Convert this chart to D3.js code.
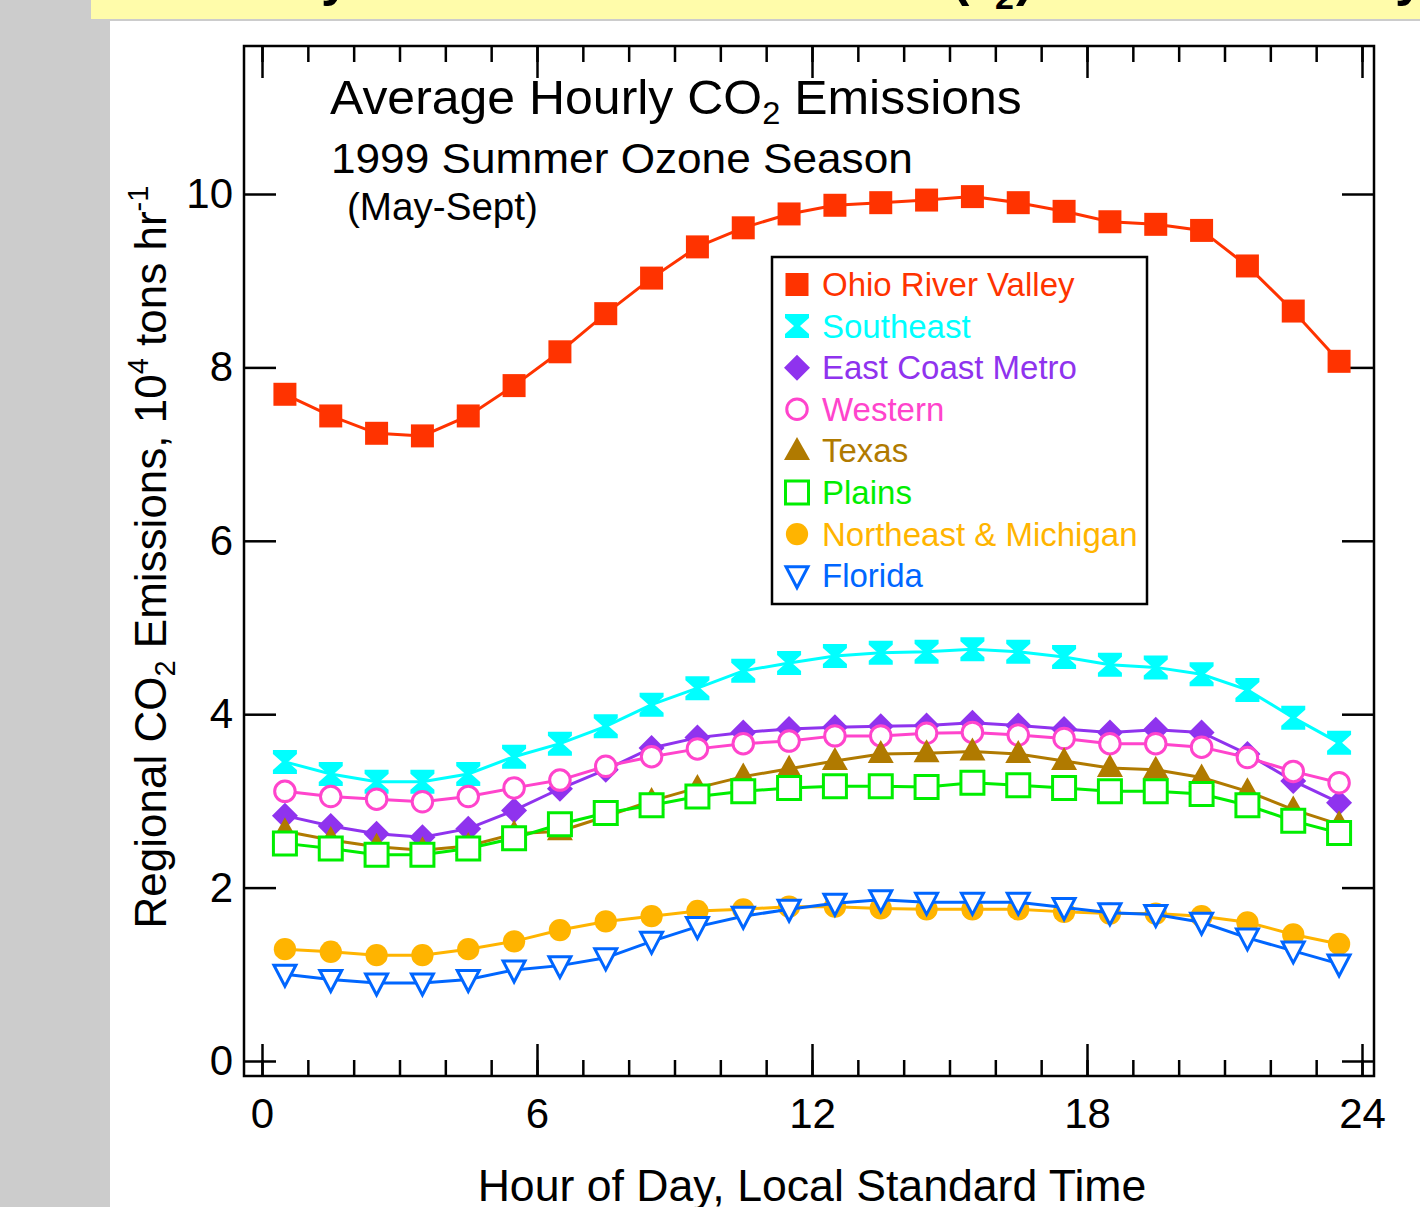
<!DOCTYPE html>
<html>
<head>
<meta charset="utf-8">
<script src="https://d3js.org/d3.v7.min.js"></script>
<style>
  body, html { margin: 0; padding: 0; background: #cccccc; }
  svg text { font-family: "Liberation Sans", Arial, Helvetica, sans-serif; }
</style>
</head>
<body>
<script>
// hour of day (mid-hour points)
const hours = [0.5, 1.5, 2.5, 3.5, 4.5, 5.5, 6.5, 7.5, 8.5, 9.5, 10.5, 11.5,
               12.5, 13.5, 14.5, 15.5, 16.5, 17.5, 18.5, 19.5, 20.5, 21.5, 22.5, 23.5];

// regional CO2 emissions, 10^4 tons/hr
const ohioRiverValley = [7.69, 7.44, 7.24, 7.21, 7.44, 7.79, 8.18, 8.62, 9.03, 9.39, 9.61, 9.77,
                         9.87, 9.90, 9.93, 9.97, 9.90, 9.80, 9.68, 9.65, 9.58, 9.17, 8.65, 8.07];
const southeast = [3.45, 3.31, 3.22, 3.22, 3.31, 3.51, 3.66, 3.86, 4.11, 4.30, 4.50, 4.59,
                   4.67, 4.71, 4.72, 4.75, 4.72, 4.66, 4.57, 4.54, 4.46, 4.28, 3.96, 3.67];
const eastCoastMetro = [2.83, 2.71, 2.62, 2.58, 2.68, 2.89, 3.14, 3.36, 3.61, 3.73, 3.79, 3.83,
                        3.85, 3.86, 3.87, 3.90, 3.87, 3.83, 3.79, 3.82, 3.79, 3.54, 3.23, 2.98];
const western = [3.11, 3.05, 3.02, 2.99, 3.05, 3.15, 3.24, 3.40, 3.51, 3.60, 3.66, 3.69,
                 3.75, 3.75, 3.78, 3.79, 3.76, 3.72, 3.66, 3.66, 3.62, 3.50, 3.34, 3.21];
const texas = [2.65, 2.55, 2.47, 2.43, 2.48, 2.62, 2.65, 2.82, 3.00, 3.15, 3.28, 3.37,
               3.46, 3.54, 3.55, 3.57, 3.54, 3.46, 3.38, 3.36, 3.27, 3.11, 2.90, 2.73];
const plains = [2.51, 2.45, 2.38, 2.38, 2.45, 2.57, 2.73, 2.86, 2.95, 3.05, 3.11, 3.15,
                3.17, 3.17, 3.16, 3.21, 3.18, 3.15, 3.11, 3.11, 3.08, 2.95, 2.77, 2.63];
const northeastMichigan = [1.29, 1.26, 1.22, 1.22, 1.29, 1.38, 1.51, 1.61, 1.67, 1.73, 1.75, 1.78,
                           1.78, 1.76, 1.75, 1.75, 1.75, 1.72, 1.70, 1.70, 1.67, 1.60, 1.46, 1.35];
const florida = [1.00, 0.94, 0.90, 0.90, 0.94, 1.05, 1.10, 1.19, 1.38, 1.55, 1.67, 1.75,
                 1.82, 1.86, 1.83, 1.83, 1.83, 1.77, 1.71, 1.69, 1.60, 1.42, 1.27, 1.12];

const seriesNames = ["Ohio River Valley", "Southeast", "East Coast Metro", "Western",
                     "Texas", "Plains", "Northeast & Michigan", "Florida"];
const seriesValues = [ohioRiverValley, southeast, eastCoastMetro, western,
                      texas, plains, northeastMichigan, florida];
const seriesColors = ["#ff3300", "#00ffff", "#8f33ee", "#ff44cc",
                      "#b07a00", "#00ee00", "#ffb400", "#0066ff"];
const seriesMarkers = ["squareFill", "hourglass", "diamond", "circleOpen",
                       "triangleUp", "squareOpen", "circleFill", "triangleDownOpen"];

const xMajorTicks = [0, 6, 12, 18, 24];
const yMajorTicks = [0, 2, 4, 6, 8, 10];

const W = 1420, H = 1207;

const svg = d3.select("body").append("svg")
    .attr("width", W)
    .attr("height", H)
    .attr("viewBox", [0, 0, W, H]);

// page background: grey strip, yellow banner, white panel
svg.append("rect").attr("width", W).attr("height", H).attr("fill", "#cccccc");
svg.append("rect").attr("x", 91).attr("y", 0).attr("width", W - 91).attr("height", 19).attr("fill", "#fffcaa");
svg.append("rect").attr("x", 110).attr("y", 21).attr("width", W - 110).attr("height", H - 21).attr("fill", "#ffffff");

// slide title above the crop: only its descenders reach into the banner
const banner = svg.append("g").attr("font-size", 52).attr("font-weight", "bold").attr("fill", "#000");
banner.append("text").attr("x", 350).attr("y", -5).attr("text-anchor", "end").text("Hourly");
banner.append("text").attr("x", 952).attr("y", -5).text("(");
banner.append("text").attr("x", 995).attr("y", 9).attr("font-size", 34).text("2");
banner.append("text").attr("x", 1016).attr("y", -5).text(")");
banner.append("text").attr("x", 1424).attr("y", -5).attr("text-anchor", "end").text("Day");

// plot frame
const frame = {left: 244, right: 1374, top: 46, bottom: 1076};

const x = d3.scaleLinear().domain([0, 24]).range([262, 1362]);
const y = d3.scaleLinear().domain([0, 10]).range([1061, 194]);

const tickStroke = 2.5;

function styleAxis(g) {
    g.select(".domain").remove();
    g.selectAll(".tick line").attr("stroke", "#000").attr("stroke-width", tickStroke);
    g.selectAll(".tick text").attr("fill", "#000");
}

// minor hourly ticks, bottom and top
svg.append("g").attr("transform", `translate(0,${frame.bottom})`)
    .call(d3.axisBottom(x).tickValues(d3.range(0, 25)).tickSize(-16).tickFormat(""))
    .call(styleAxis);
svg.append("g").attr("transform", `translate(0,${frame.top})`)
    .call(d3.axisTop(x).tickValues(d3.range(0, 25)).tickSize(-16).tickFormat(""))
    .call(styleAxis);

// major ticks
svg.append("g").attr("transform", `translate(0,${frame.bottom})`)
    .call(d3.axisBottom(x).tickValues(xMajorTicks).tickSize(-32).tickPadding(22).tickFormat(d3.format("d")))
    .call(styleAxis)
    .call(g => g.selectAll(".tick text").attr("font-size", 42).attr("font-family", "Liberation Sans, Arial, sans-serif"));
svg.append("g").attr("transform", `translate(0,${frame.top})`)
    .call(d3.axisTop(x).tickValues(xMajorTicks).tickSize(-32).tickFormat(""))
    .call(styleAxis);

svg.append("g").attr("transform", `translate(${frame.left},0)`)
    .call(d3.axisLeft(y).tickValues(yMajorTicks).tickSize(-32).tickPadding(11).tickFormat(d3.format("d")))
    .call(styleAxis)
    .call(g => g.selectAll(".tick text").attr("font-size", 42).attr("font-family", "Liberation Sans, Arial, sans-serif"));
svg.append("g").attr("transform", `translate(${frame.right},0)`)
    .call(d3.axisRight(y).tickValues(yMajorTicks).tickSize(-32).tickFormat(""))
    .call(styleAxis);

svg.append("rect")
    .attr("x", frame.left).attr("y", frame.top)
    .attr("width", frame.right - frame.left).attr("height", frame.bottom - frame.top)
    .attr("fill", "none").attr("stroke", "#000").attr("stroke-width", 2.5);

// marker shapes
function markerPath(type) {
    switch (type) {
        case "squareFill":
        case "squareOpen": return "M-11.5,-11.5H11.5V11.5H-11.5Z";
        case "hourglass": return "M-12,-12H12V-8L3,0L12,8V12H-12V8L-3,0L-12,-8Z";
        case "diamond": return "M0,-13L13,0L0,13L-13,0Z";
        case "triangleUp": return "M0,-14L13,9H-13Z";
        case "triangleDownOpen": return "M-11,-9H11L0,12Z";
        case "circleOpen": return d3.symbol(d3.symbolCircle, 330)();
        default: return d3.symbol(d3.symbolCircle, 390)();
    }
}
function markerFill(type, color) {
    return /Open/.test(type) ? "#ffffff" : color;
}
function markerStroke(type, color) {
    return /Open/.test(type) ? color : "none";
}

const line = d3.line().x(d => x(d[0])).y(d => y(d[1]));

seriesNames.forEach((name, i) => {
    const pts = hours.map((h, j) => [h, seriesValues[i][j]]);
    const g = svg.append("g");
    g.append("path")
        .datum(pts)
        .attr("d", line)
        .attr("fill", "none")
        .attr("stroke", seriesColors[i])
        .attr("stroke-width", 3);
    const type = seriesMarkers[i];
    g.selectAll("path.mk")
        .data(pts)
        .join("path")
        .attr("class", "mk")
        .attr("transform", d => `translate(${x(d[0])},${y(d[1])})`)
        .attr("d", markerPath(type))
        .attr("fill", markerFill(type, seriesColors[i]))
        .attr("stroke", markerStroke(type, seriesColors[i]))
        .attr("stroke-width", 3);
});

// squeeze a text node horizontally to a target width
function fitWidth(sel, target) {
    const node = sel.node();
    const w = node.getBBox().width;
    const x0 = +sel.attr("x");
    sel.attr("transform", `translate(${x0},0) scale(${target / w},1) translate(${-x0},0)`);
}

// chart titles
const t1 = svg.append("text").attr("x", 330).attr("y", 114).attr("font-size", 49);
t1.append("tspan").text("Average Hourly CO");
t1.append("tspan").attr("font-size", 32).attr("dy", 10).text("2");
t1.append("tspan").attr("dy", -10).text(" Emissions");
fitWidth(t1, 692);

const t2 = svg.append("text").attr("x", 331).attr("y", 173).attr("font-size", 43)
    .text("1999 Summer Ozone Season");
fitWidth(t2, 582);

const t3 = svg.append("text").attr("x", 347).attr("y", 220).attr("font-size", 38)
    .text("(May-Sept)");
fitWidth(t3, 191);

// axis titles
const xl = svg.append("text").attr("x", 812).attr("y", 1201).attr("font-size", 44)
    .attr("text-anchor", "middle").text("Hour of Day, Local Standard Time");
fitWidth(xl, 669);

const yl = svg.append("text").attr("transform", "translate(166,557) rotate(-90)")
    .attr("font-size", 44).attr("text-anchor", "middle");
yl.append("tspan").text("Regional CO");
yl.append("tspan").attr("font-size", 29).attr("dy", 9).text("2");
yl.append("tspan").attr("dy", -9).text(" Emissions, 10");
yl.append("tspan").attr("font-size", 29).attr("dy", -18).text("4");
yl.append("tspan").attr("dy", 18).text(" tons hr");
yl.append("tspan").attr("font-size", 29).attr("dy", -18).text("-1");

// legend
const legend = svg.append("g");
legend.append("rect")
    .attr("x", 772).attr("y", 257).attr("width", 375).attr("height", 347)
    .attr("fill", "#ffffff").attr("stroke", "#000").attr("stroke-width", 2.5);
seriesNames.forEach((name, i) => {
    const cy = 284.5 + i * 41.6;
    const type = seriesMarkers[i];
    legend.append("path")
        .attr("transform", `translate(797,${cy})`)
        .attr("d", markerPath(type))
        .attr("fill", markerFill(type, seriesColors[i]))
        .attr("stroke", markerStroke(type, seriesColors[i]))
        .attr("stroke-width", 3);
    legend.append("text")
        .attr("x", 822).attr("y", cy + 11.5)
        .attr("font-size", 33)
        .attr("fill", seriesColors[i])
        .text(name);
});
</script>
</body>
</html>
